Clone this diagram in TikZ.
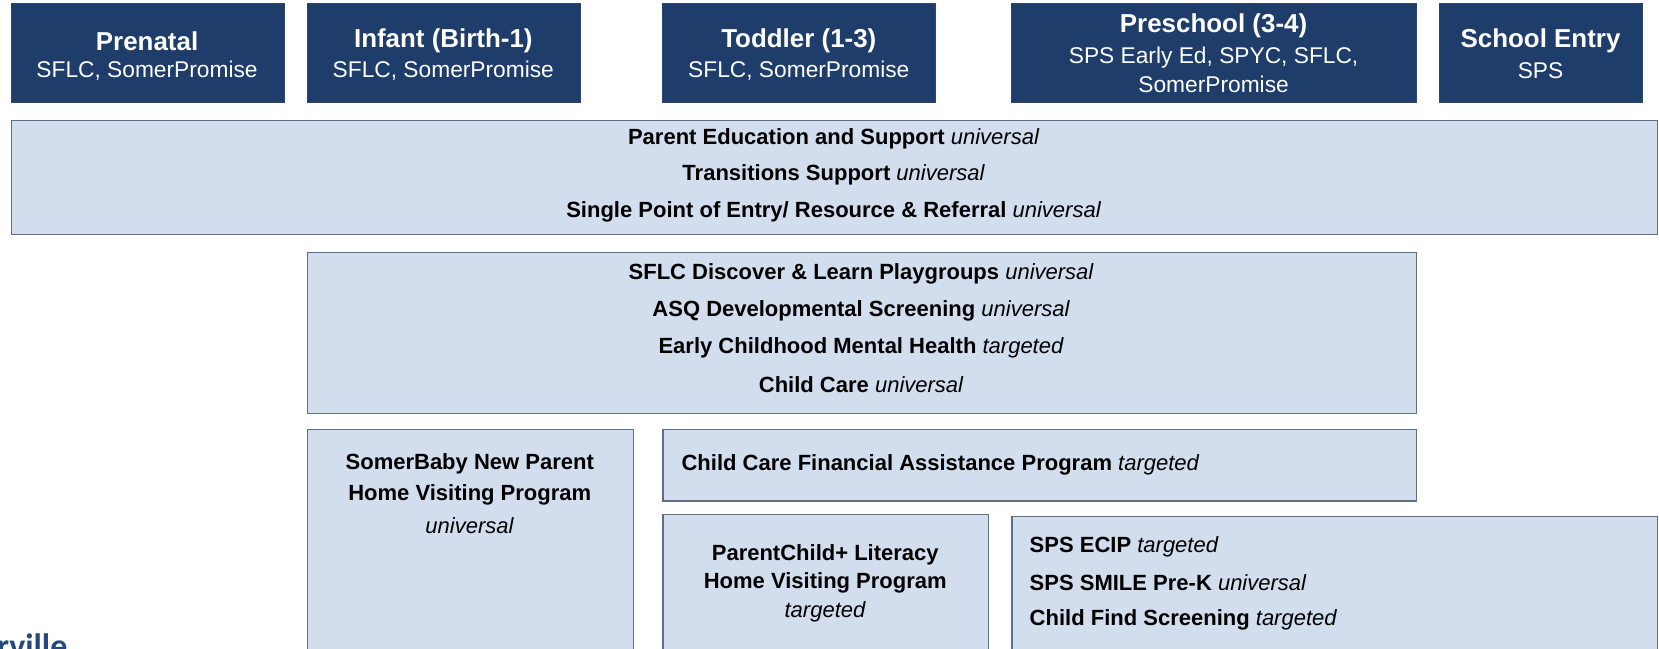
\documentclass[tikz,border=0pt]{standalone}
\usepackage{fontspec}
\setmainfont{Liberation Sans}
\newfontfamily\logofont{Carlito}
\definecolor{navy}{HTML}{1F3D6A}
\definecolor{lightbox}{HTML}{D2DDEE}
\definecolor{boxline}{HTML}{5E6E85}
\definecolor{logoblue}{HTML}{244A7C}
\begin{document}
\begin{tikzpicture}[x=1pt,y=-1pt,
  hdr/.style={fill=navy, draw=navy!85!gray, line width=0.8pt, anchor=north west, inner sep=0pt, minimum height=93pt},
  lbox/.style={fill=lightbox, draw=boxline, line width=1.1pt, anchor=north west, inner sep=0pt},
  htitle/.style={text=white, inner sep=0pt, font=\fontsize{24.5}{28}\selectfont\bfseries},
  hsub/.style={text=white, inner sep=0pt, font=\fontsize{21.5}{25}\selectfont},
  body/.style={text=black, inner sep=0pt, font=\fontsize{20.8}{24}\selectfont},
  bodyl/.style={body, anchor=west}
]
\useasboundingbox (0,0) rectangle (1568,613);
\clip (0,0) rectangle (1568,613);

% header boxes
\node[hdr, minimum width=258pt] (pre) at (10,3) {};
\node[hdr, minimum width=258pt] (inf) at (290,3) {};
\node[hdr, minimum width=258pt] (tod) at (626,3) {};
\node[hdr, minimum width=382pt] (psc) at (956,3) {};
\node[hdr, minimum width=192pt] (sch) at (1360,3) {};

\node[htitle] (pret) at (139,39) {Prenatal};
\node[hsub] (pres) at (139,67) {SFLC, SomerPromise};
\node[htitle] (inft) at (419,39) {Infant (Birth-1)};
\node[hsub] (infs) at (419,67) {SFLC, SomerPromise};
\node[htitle] (todt) at (755,39) {Toddler (1-3)};
\node[hsub] (tods) at (755,67) {SFLC, SomerPromise};
\node[htitle] (psct) at (1147,24) {Preschool (3-4)};
\node[hsub] (pscs1) at (1147,54) {SPS Early Ed, SPYC, SFLC,};
\node[hsub] (pscs2) at (1147,80) {SomerPromise};
\node[htitle] (scht) at (1456,39) {School Entry};
\node[hsub] (schs) at (1456,67) {SPS};

% wide universal box
\node[lbox, minimum width=1556pt, minimum height=108pt] (wide) at (10,113) {};
\node[body] (w1) at (788,131) {\textbf{Parent Education and Support} \textit{universal}};
\node[body] (w2) at (788,165) {\textbf{Transitions Support} \textit{universal}};
\node[body] (w3) at (788,200) {\textbf{Single Point of Entry/ Resource \& Referral} \textit{universal}};

% middle box
\node[lbox, minimum width=1048pt, minimum height=152pt] (mid) at (290,238) {};
\node[body] (m1) at (814,259) {\textbf{SFLC Discover \& Learn Playgroups} \textit{universal}};
\node[body] (m2) at (814,294) {\textbf{ASQ Developmental Screening} \textit{universal}};
\node[body] (m3) at (814,329) {\textbf{Early Childhood Mental Health} \textit{targeted}};
\node[body] (m4) at (814,364) {\textbf{Child Care} \textit{universal}};

% SomerBaby
\node[lbox, minimum width=308pt, minimum height=230pt] (sbb) at (290,405) {};
\node[body] (sb1) at (444,438) {\textbf{SomerBaby New Parent}};
\node[body] (sb2) at (444,468) {\textbf{Home Visiting Program}};
\node[body] (sb3) at (444,497) {\textit{universal}};

% Child Care Financial Assistance
\node[lbox, minimum width=712pt, minimum height=68pt] (ccf) at (626,405) {};
\node[bodyl] (ccft) at (644,439) {\textbf{Child Care Financial Assistance Program} \textit{targeted}};

% ParentChild+
\node[lbox, minimum width=308pt, minimum height=150pt] (pcl) at (626,486) {};
\node[body] (pc1) at (780,524) {\textbf{ParentChild+ Literacy}};
\node[body] (pc2) at (780,551) {\textbf{Home Visiting Program}};
\node[body] (pc3) at (780,578) {\textit{targeted}};

% SPS box
\node[lbox, minimum width=610pt, minimum height=148pt] (sps) at (956,488) {};
\node[bodyl] (sp1) at (973,517) {\textbf{SPS ECIP} \textit{targeted}};
\node[bodyl] (sp2) at (973,551) {\textbf{SPS SMILE Pre-K} \textit{universal}};
\node[bodyl] (sp3) at (973,586) {\textbf{Child Find Screening} \textit{targeted}};

% cut-off logo text
\node[anchor=base west, inner sep=0pt, text=logoblue, font=\logofont\fontsize{32}{36}\selectfont\bfseries] (logo) at (-3,621) {rville};
\end{tikzpicture}
\end{document}
